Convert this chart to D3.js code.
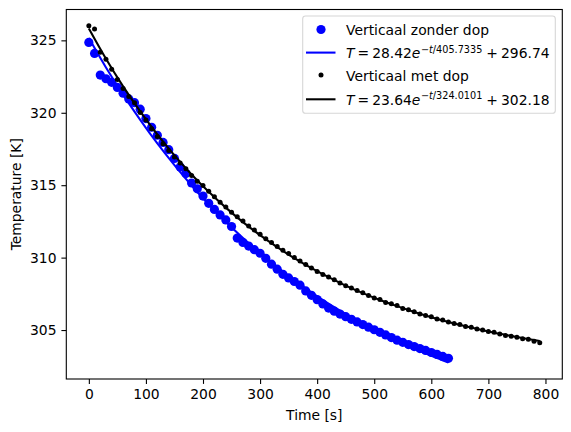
<!DOCTYPE html>
<html>
<head>
<meta charset="utf-8">
<script src="https://cdn.jsdelivr.net/npm/d3@7"></script>
<style>
  body { margin: 0; background: #fff; }
  svg { display: block; font-family: "DejaVu Sans", sans-serif; }
</style>
</head>
<body>
<div id="chart"></div>
<script>
// Measured data, time in seconds, temperature in kelvin
var blueTime = [0, 10, 20, 30, 40, 50, 60, 70, 80, 90, 100, 110, 120, 130, 140, 150, 160, 170, 180, 190,
    200, 210, 220, 230, 240, 250, 260, 270, 280, 290, 300, 310, 320, 330, 340, 350, 360, 370, 380, 390,
    400, 410, 420, 430, 440, 450, 460, 470, 480, 490, 500, 510, 520, 530, 540, 550, 560, 570, 580, 590,
    600, 610, 620, 630];
var blueTemp = [324.86, 324.1, 322.6, 322.35, 322.1, 321.75, 321.35, 320.95, 320.7, 320.25,
    319.6, 319.0, 318.45, 317.95, 317.45, 316.85, 316.25, 315.8, 315.15, 314.75,
    314.25, 313.75, 313.33, 312.95, 312.6, 312.15, 311.35, 311.05, 310.8, 310.55,
    310.3, 309.95, 309.55, 309.2, 308.85, 308.6, 308.35, 308.1, 307.7, 307.4,
    307.1, 306.8, 306.52, 306.3, 306.1, 305.92, 305.74, 305.56, 305.38, 305.2,
    305.02, 304.84, 304.66, 304.48, 304.3, 304.15, 304.0, 303.86, 303.72, 303.59,
    303.45, 303.32, 303.18, 303.05];

var blackTime = [0, 10, 20, 30, 40, 50, 60, 70, 80, 90, 100, 110, 120, 130, 140, 150, 160, 170, 180, 190,
    200, 210, 220, 230, 240, 250, 260, 270, 280, 290, 300, 310, 320, 330, 340, 350, 360, 370, 380, 390,
    400, 410, 420, 430, 440, 450, 460, 470, 480, 490, 500, 510, 520, 530, 540, 550, 560, 570, 580, 590,
    600, 610, 620, 630, 640, 650, 660, 670, 680, 690, 700, 710, 720, 730, 740, 750, 760, 770, 780, 790];
var blackTemp = [326.0, 325.78, 324.17, 323.7, 323.0, 322.3, 321.67, 321.12, 320.7, 320.02,
    319.5, 318.9, 318.37, 317.87, 317.39, 316.95, 316.54, 316.13, 315.67, 315.27,
    314.98, 314.59, 314.2, 313.83, 313.49, 313.14, 312.83, 312.53, 312.18, 311.91,
    311.61, 311.31, 311.04, 310.76, 310.51, 310.28, 310.0, 309.77, 309.52, 309.28,
    309.05, 308.83, 308.66, 308.47, 308.25, 308.05, 307.9, 307.73, 307.57, 307.38,
    307.22, 307.1, 306.9, 306.82, 306.7, 306.48, 306.4, 306.27, 306.1, 306.0,
    305.92, 305.76, 305.7, 305.55, 305.45, 305.38, 305.24, 305.2, 305.08, 305.0,
    304.9, 304.85, 304.72, 304.62, 304.58, 304.5, 304.4, 304.36, 304.22, 304.12];

// Fitted curves
var blueFitTime = [0, 30, 60, 90, 120, 150, 180, 210, 240, 270, 300, 330, 360, 390, 420, 450, 480, 510,
    540, 570, 600, 630];
var blueFitTemp = [325.16, 323.13, 321.25, 319.51, 317.88, 316.38, 314.98, 313.68, 312.47, 311.35,
    310.31, 309.34, 308.44, 307.61, 306.83, 306.12, 305.45, 304.83, 304.25, 303.72, 303.22, 302.76];
var blackFitTime = [0, 30, 60, 90, 120, 150, 180, 210, 240, 270, 300, 330, 360, 390, 420, 450, 480, 510,
    540, 570, 600, 630, 660, 690, 720, 750, 780, 790];
var blackFitTemp = [325.82, 323.73, 321.82, 320.09, 318.50, 317.06, 315.74, 314.54, 313.45, 312.45,
    311.55, 310.72, 309.96, 309.27, 308.65, 308.07, 307.55, 307.08, 306.65, 306.25, 305.89, 305.56,
    305.26, 304.99, 304.74, 304.52, 304.31, 304.24];

var xTicks = [0, 100, 200, 300, 400, 500, 600, 700, 800];
var yTicks = [305, 310, 315, 320, 325];

var width = 571, height = 432;
var axLeft = 66.3, axRight = 562.3, axTop = 9.5, axBottom = 379;
var fontSize = 13.89;

var svg = d3.select("#chart")
            .append("svg")
            .attr("width", width)
            .attr("height", height);

var x = d3.scaleLinear().domain([-39.5, 829.5]).range([axLeft, axRight]);
var y = d3.scaleLinear().domain([301.62, 327.13]).range([axBottom, axTop]);

function zip(ts, vs) {
    return ts.map(function(t, i) { return [t, vs[i]]; });
}

var plot = svg.append("g");

// Blue measurement points
plot.selectAll("circle.blue")
    .data(zip(blueTime, blueTemp))
    .enter()
    .append("circle")
    .attr("class", "blue")
    .attr("cx", function(d) { return x(d[0]); })
    .attr("cy", function(d) { return y(d[1]); })
    .attr("r", 4.6)
    .attr("fill", "#0000ff");

var line = d3.line()
    .x(function(d) { return x(d[0]); })
    .y(function(d) { return y(d[1]); })
    .curve(d3.curveMonotoneX);

plot.append("path")
    .datum(zip(blueFitTime, blueFitTemp))
    .attr("d", line)
    .attr("fill", "none")
    .attr("stroke", "#0000ff")
    .attr("stroke-width", 2.08);

// Black measurement points
plot.selectAll("circle.black")
    .data(zip(blackTime, blackTemp))
    .enter()
    .append("circle")
    .attr("class", "black")
    .attr("cx", function(d) { return x(d[0]); })
    .attr("cy", function(d) { return y(d[1]); })
    .attr("r", 2.5)
    .attr("fill", "#000");

plot.append("path")
    .datum(zip(blackFitTime, blackFitTemp))
    .attr("d", line)
    .attr("fill", "none")
    .attr("stroke", "#000")
    .attr("stroke-width", 2.08);

// Axes
var xAxis = svg.append("g")
    .attr("transform", "translate(0," + axBottom + ")")
    .call(d3.axisBottom(x).tickValues(xTicks).tickSize(4.9).tickPadding(4.9));
var yAxis = svg.append("g")
    .attr("transform", "translate(" + axLeft + ",0)")
    .call(d3.axisLeft(y).tickValues(yTicks).tickSize(4.9).tickPadding(4.9));

[xAxis, yAxis].forEach(function(a) {
    a.select(".domain").remove();
    a.selectAll("line").attr("stroke", "#000").attr("stroke-width", 1.1);
    a.selectAll("text")
        .attr("font-family", "DejaVu Sans")
        .attr("font-size", fontSize)
        .attr("fill", "#000");
});

svg.append("rect")
    .attr("x", axLeft)
    .attr("y", axTop)
    .attr("width", axRight - axLeft)
    .attr("height", axBottom - axTop)
    .attr("fill", "none")
    .attr("stroke", "#000")
    .attr("stroke-width", 1.1);

svg.append("text")
    .text("Time [s]")
    .attr("x", (axLeft + axRight) / 2)
    .attr("y", 420)
    .attr("text-anchor", "middle")
    .attr("font-size", fontSize);

svg.append("text")
    .text("Temperature [K]")
    .attr("transform", "translate(21," + ((axTop + axBottom) / 2) + ") rotate(-90)")
    .attr("text-anchor", "middle")
    .attr("font-size", fontSize);

// Legend
var legend = svg.append("g");
legend.append("rect")
    .attr("x", 302.7)
    .attr("y", 16)
    .attr("width", 252.6)
    .attr("height", 97.3)
    .attr("rx", 2.8)
    .attr("fill", "#fff")
    .attr("fill-opacity", 0.8)
    .attr("stroke", "#d6d6d6")
    .attr("stroke-width", 1.1);

legend.append("circle").attr("cx", 321).attr("cy", 29.5).attr("r", 4.6).attr("fill", "#0000ff");
legend.append("line").attr("x1", 306).attr("x2", 335.5).attr("y1", 52.6).attr("y2", 52.6)
    .attr("stroke", "#0000ff").attr("stroke-width", 2.08);
legend.append("circle").attr("cx", 321).attr("cy", 75).attr("r", 2.5).attr("fill", "#000");
legend.append("line").attr("x1", 306).attr("x2", 335.5).attr("y1", 99.3).attr("y2", 99.3)
    .attr("stroke", "#000").attr("stroke-width", 2.08);

legend.append("text").text("Verticaal zonder dop")
    .attr("x", 346).attr("y", 35).attr("font-size", fontSize);
legend.append("text").text("Verticaal met dop")
    .attr("x", 346).attr("y", 80.5).attr("font-size", fontSize);

function formula(yBase, a, tau, c) {
    var t = legend.append("text")
        .attr("x", 346)
        .attr("y", yBase)
        .attr("font-size", fontSize);
    t.append("tspan").attr("font-style", "italic").text("T");
    t.append("tspan").attr("dx", 3).text("=");
    t.append("tspan").attr("dx", 3).text(a);
    t.append("tspan").attr("font-style", "italic").text("e");
    var sup = t.append("tspan").attr("font-size", 9.7).attr("dy", -5.8).attr("dx", 0.5);
    sup.append("tspan").text("\u2212");
    sup.append("tspan").attr("font-style", "italic").text("t");
    sup.append("tspan").text("/" + tau);
    t.append("tspan").attr("dy", 5.8).attr("dx", 4).text("+");
    t.append("tspan").attr("dx", 3).text(c);
}

formula(58.3, "28.42", "405.7335", "296.74");
formula(104.8, "23.64", "324.0101", "302.18");
</script>
</body>
</html>
